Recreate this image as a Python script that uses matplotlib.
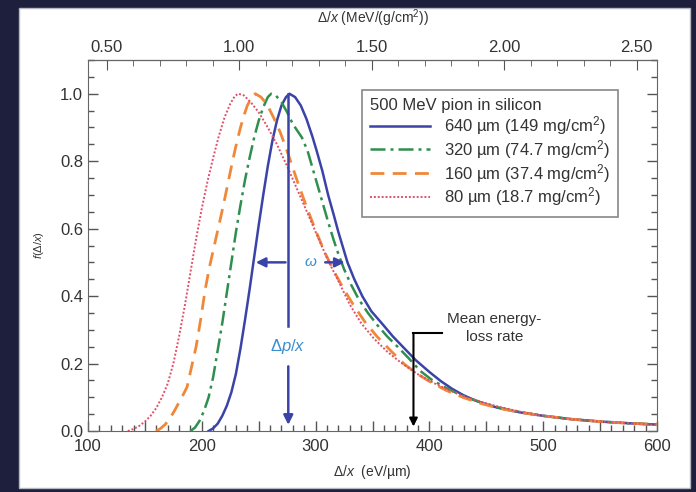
import matplotlib
matplotlib.use("Agg")
import matplotlib.pyplot as plt
from matplotlib.patches import Rectangle
from matplotlib.ticker import MultipleLocator, FixedLocator, FuncFormatter

plt.rcParams["font.family"] = ["Liberation Sans", "DejaVu Sans"]
plt.rcParams["mathtext.fontset"] = "custom"
plt.rcParams["mathtext.rm"] = "Liberation Sans"
plt.rcParams["mathtext.it"] = "Liberation Sans:italic"

# eV/um per MeV/(g/cm^2) for silicon (rho = 2.329 g/cm^3)
SI_CONV = 232.9

# 640 um (149 mg/cm2)
x640 = [206, 210, 214, 218, 222, 226, 230, 234, 238, 242, 246, 250, 254, 258, 262, 266, 270, 274, 277,
        282, 287, 292, 297, 301, 306, 311, 316, 320, 324, 328, 334, 341, 349, 358, 368, 378, 388, 400,
        410, 420, 430, 440, 450, 460, 480, 500, 525, 550, 575, 600]
f640 = [0.0, 0.008, 0.022, 0.045, 0.075, 0.115, 0.17, 0.245, 0.33, 0.42, 0.515, 0.61, 0.70, 0.785, 0.86,
        0.92, 0.965, 0.99, 1.0,
        0.99, 0.965, 0.925, 0.875, 0.83, 0.77, 0.70, 0.64, 0.59, 0.545, 0.50, 0.45, 0.40, 0.355, 0.32,
        0.28, 0.245, 0.21, 0.175, 0.148, 0.125, 0.106, 0.091, 0.079, 0.069, 0.055, 0.045, 0.035, 0.028,
        0.023, 0.019]
# 320 um (74.7 mg/cm2)
x320 = [190, 194, 198, 202, 206, 210, 214, 218, 222, 226, 230, 234, 238, 242, 246, 250, 254, 258, 261,
        265, 270, 275, 280, 288, 293, 299, 305, 311, 316, 320, 325, 331, 338, 346, 354, 363, 372, 382,
        392, 402, 415, 430, 445, 460, 480, 500, 525, 550, 575, 600]
f320 = [0.0, 0.01, 0.03, 0.06, 0.10, 0.16, 0.24, 0.32, 0.41, 0.50, 0.59, 0.67, 0.745, 0.81, 0.87, 0.92,
        0.96, 0.99, 1.0,
        0.995, 0.975, 0.945, 0.91, 0.87, 0.83, 0.76, 0.69, 0.62, 0.565, 0.525, 0.48, 0.435, 0.39, 0.35,
        0.315, 0.28, 0.25, 0.215, 0.178, 0.152, 0.127, 0.103, 0.085, 0.07, 0.056, 0.045, 0.035, 0.028,
        0.023, 0.019]
# 160 um (37.4 mg/cm2)
x160 = [160, 164, 168, 172, 176, 180, 184, 187, 191, 195, 199, 203, 207, 211, 215, 219, 223, 227, 231,
        234, 237, 240, 244, 247,
        252, 257, 263, 269, 276, 284, 292, 300, 308, 316, 324, 333, 343, 354, 366, 378, 390, 402, 415,
        430, 445, 460, 480, 500, 525, 550, 575, 600]
f160 = [0.0, 0.008, 0.02, 0.038, 0.06, 0.085, 0.11, 0.13, 0.19, 0.25, 0.33, 0.42, 0.49, 0.55, 0.61,
        0.67, 0.735, 0.80, 0.86, 0.90, 0.935, 0.965, 0.99, 1.0,
        0.99, 0.97, 0.93, 0.885, 0.82, 0.74, 0.665, 0.595, 0.53, 0.475, 0.425, 0.375, 0.325, 0.28,
        0.238, 0.198, 0.168, 0.143, 0.12, 0.099, 0.082, 0.068, 0.055, 0.045, 0.035, 0.028, 0.023, 0.019]
# 80 um (18.7 mg/cm2)
x80 = [135, 140, 145, 150, 155, 160, 165, 170, 175, 180, 185, 190, 195, 200, 205, 210, 215, 220, 225,
       229, 232,
       237, 243, 250, 258, 266, 275, 284, 293, 302, 311, 320, 330, 340, 351, 363, 376, 390, 404, 418,
       432, 447, 462, 480, 500, 525, 550, 575, 600]
f80 = [0.0, 0.006, 0.015, 0.028, 0.045, 0.068, 0.10, 0.14, 0.20, 0.28, 0.37, 0.47, 0.57, 0.66, 0.74,
       0.81, 0.875, 0.93, 0.97, 0.993, 1.0,
       0.995, 0.975, 0.945, 0.90, 0.85, 0.785, 0.715, 0.645, 0.575, 0.505, 0.445, 0.375, 0.32, 0.275,
       0.235, 0.20, 0.168, 0.142, 0.12, 0.101, 0.085, 0.071, 0.057, 0.045, 0.035, 0.028, 0.023, 0.019]

labels = ["640 \u00b5m (149 mg/cm$^2$)", "320 \u00b5m (74.7 mg/cm$^2$)",
          "160 \u00b5m (37.4 mg/cm$^2$)", "80 \u00b5m (18.7 mg/cm$^2$)"]
top_ticks = [0.5, 1.0, 1.5, 2.0, 2.5]

mpv = 276        # most probable value, eV/um
half_left, half_right = 245, 328
mean_loss = 386

fig = plt.figure(figsize=(6.96, 4.92), dpi=100, facecolor="#1d1f3c")
fig.patches.append(Rectangle((19 / 696, 4 / 492), 671 / 696, 480 / 492, transform=fig.transFigure,
                             facecolor="white", edgecolor="#b8b8c0", lw=1, zorder=-10))
ax = fig.add_axes([88 / 696, 61 / 492, 569 / 696, 371 / 492])
ax.set_facecolor("white")

ax.plot(x640, f640, color="#3b43a8", lw=1.8, ls="-", label=labels[0])
ax.plot(x320, f320, color="#2f8f4e", lw=1.8, ls=(0, (6, 2, 1.2, 2)), label=labels[1])
ax.plot(x160, f160, color="#f0883a", lw=2.0, ls=(0, (5, 3)), label=labels[2])
ax.plot(x80, f80, color="#e0506a", lw=1.4, ls=(0, (1, 1)), label=labels[3])

ax.set_xlim(100, 600)
ax.set_ylim(0, 1.1)

# most probable value arrow with gap for the label
arrow_c = "#3a44a8"
ax.plot([mpv, mpv], [1.0, 0.31], color=arrow_c, lw=1.8)
ax.annotate("", xy=(mpv, 0.01), xytext=(mpv, 0.20),
            arrowprops=dict(arrowstyle="-|>", color=arrow_c, lw=1.8, mutation_scale=14))
ax.text(mpv, 0.25, r"$\Delta p/x$", color="#3a8fd0", fontsize=12, ha="center", va="center")

# FWHM arrows
ax.annotate("", xy=(half_left, 0.5), xytext=(mpv, 0.5),
            arrowprops=dict(arrowstyle="-|>", color=arrow_c, lw=1.8, mutation_scale=14))
ax.annotate("", xy=(half_right, 0.5), xytext=(306, 0.5),
            arrowprops=dict(arrowstyle="-|>", color=arrow_c, lw=1.8, mutation_scale=14))
ax.text(296, 0.5, r"$\omega$", color="#3a8fd0", fontsize=11, ha="center", va="center")

# mean energy-loss rate
ax.plot([mean_loss, 411], [0.29, 0.29], color="black", lw=1.5)
ax.annotate("", xy=(mean_loss, 0.005), xytext=(mean_loss, 0.295),
            arrowprops=dict(arrowstyle="-|>", color="black", lw=1.5, mutation_scale=12))
ax.text(457, 0.305, "Mean energy-\nloss rate", fontsize=11, color="#333333",
        ha="center", va="center", linespacing=1.4)

ax.xaxis.set_major_locator(MultipleLocator(50))
ax.xaxis.set_minor_locator(MultipleLocator(10))
ax.xaxis.set_major_formatter(FuncFormatter(lambda v, p: f"{v:.0f}" if v % 100 == 0 else ""))
ax.yaxis.set_major_locator(MultipleLocator(0.2))
ax.yaxis.set_minor_locator(MultipleLocator(0.05))
ax.yaxis.set_major_formatter(FuncFormatter(lambda v, p: f"{v:.1f}"))
ax.tick_params(which="both", direction="in", top=False, right=True, colors="#555555",
               labelcolor="#333333", labelsize=12)
ax.tick_params(which="major", length=7, width=1)
ax.tick_params(which="minor", length=4, width=1)
ax.tick_params(axis="x", pad=6)
for s in ax.spines.values():
    s.set_color("#666666")

sec = ax.secondary_xaxis("top", functions=(lambda v: v / SI_CONV, lambda m: m * SI_CONV))
sec.xaxis.set_major_locator(FixedLocator(top_ticks))
sec.xaxis.set_minor_locator(MultipleLocator(0.1))
sec.xaxis.set_major_formatter(FuncFormatter(lambda v, p: f"{v:.2f}"))
sec.tick_params(which="both", direction="in", colors="#555555", labelcolor="#333333", labelsize=12)
sec.tick_params(which="major", length=7)
sec.tick_params(which="minor", length=4)
sec.set_xlabel(r"$\Delta/x$ (MeV/(g/cm$^2$))", fontsize=10, color="#333333", labelpad=12)

ax.set_xlabel("$\\Delta/x$  (eV/\u00b5m)", fontsize=10, color="#333333", labelpad=6)
ax.set_ylabel(r"$f(\Delta/x)$", fontsize=8, color="#333333", labelpad=10)

leg = ax.legend(loc="upper left", bbox_to_anchor=(0.4815, 0.919), borderaxespad=0,
                title="500 MeV pion in silicon", title_fontsize=12, fontsize=12,
                alignment="left", fancybox=False, edgecolor="#888888", framealpha=1,
                handlelength=3.6, labelspacing=0.05, borderpad=0.5)
leg.get_frame().set_linewidth(1.2)
for t in leg.get_texts():
    t.set_color("#333333")
leg.get_title().set_color("#333333")

fig.savefig("out.png", dpi=100, facecolor=fig.get_facecolor())
